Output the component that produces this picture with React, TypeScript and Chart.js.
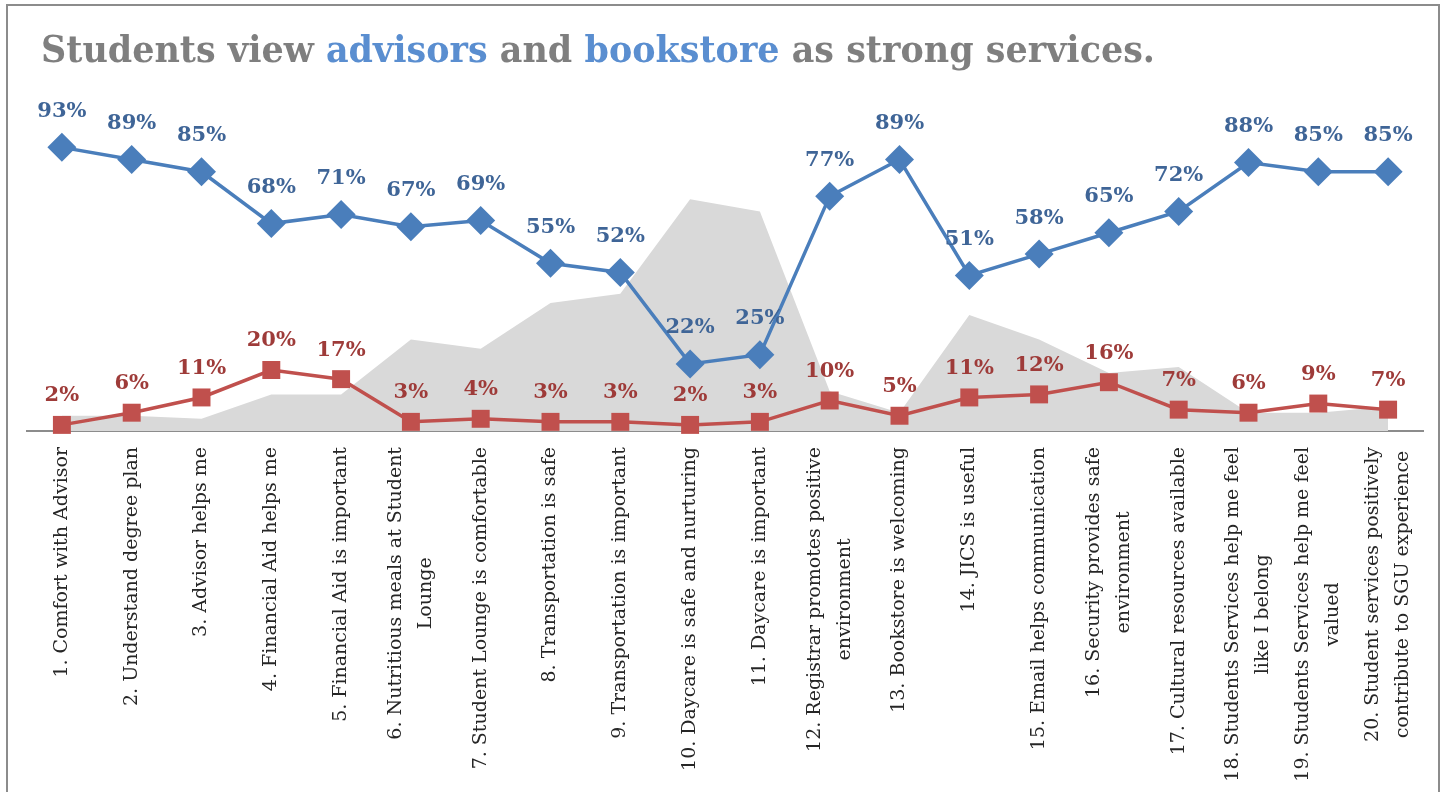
import React, { useEffect, useLayoutEffect, useRef } from "react";
import { Chart, registerables } from "chart.js";

Chart.register(...registerables);

const categories: string[][] = [
  ["1. Comfort with Advisor"],
  ["2. Understand degree plan"],
  ["3. Advisor helps me"],
  ["4. Financial Aid helps me"],
  ["5. Financial Aid is important"],
  ["6. Nutritious meals at Student", "Lounge"],
  ["7. Student Lounge is comfortable"],
  ["8. Transportation is safe"],
  ["9. Transportation is important"],
  ["10. Daycare is safe and nurturing"],
  ["11. Daycare is important"],
  ["12. Registrar promotes positive", "environment"],
  ["13. Bookstore is welcoming"],
  ["14. JICS is useful"],
  ["15. Email helps communication"],
  ["16. Security provides safe", "environment"],
  ["17. Cultural resources available"],
  ["18. Students Services help me feel", "like I belong"],
  ["19. Students Services help me feel", "valued"],
  ["20. Student services positively", "contribute to SGU experience"],
];

const agreeValues = [93, 89, 85, 68, 71, 67, 69, 55, 52, 22, 25, 77, 89, 51, 58, 65, 72, 88, 85, 85];
const disagreeValues = [2, 6, 11, 20, 17, 3, 4, 3, 3, 2, 3, 10, 5, 11, 12, 16, 7, 6, 9, 7];
const neutralValues = [5, 5, 4, 12, 12, 30, 27, 42, 45, 76, 72, 13, 6, 38, 30, 19, 21, 6, 6, 8];

const TITLE_WIDTH = 1114;

const labelPlugin = {
  id: "customLabels",
  afterDatasetsDraw(chart: any) {
    const ctx = chart.ctx;
    ctx.save();
    // data labels
    const cfg = [
      { idx: 0, color: "#3f6597", offset: 36 },
      { idx: 1, color: "#9e3b39", offset: 29 },
    ];
    ctx.font = 'bold 21px "DejaVu Serif"';
    ctx.textAlign = "center";
    ctx.textBaseline = "middle";
    for (const c of cfg) {
      const meta = chart.getDatasetMeta(c.idx);
      const data = chart.data.datasets[c.idx].data;
      meta.data.forEach((pt: any, i: number) => {
        ctx.fillStyle = c.color;
        ctx.fillText(data[i] + "%", pt.x, pt.y - c.offset);
      });
    }
    // x axis category labels (rotated, centered multi-line)
    const xScale = chart.scales.x;
    const top = chart.chartArea.bottom + 16;
    ctx.font = '19px "DejaVu Serif"';
    ctx.fillStyle = "#262626";
    const lineH = 30;
    (chart.data.labels as string[][]).forEach((lines, i) => {
      const x = xScale.getPixelForValue(i);
      let maxW = 0;
      for (const l of lines) maxW = Math.max(maxW, ctx.measureText(l).width);
      ctx.save();
      ctx.translate(x, top);
      ctx.rotate(-Math.PI / 2);
      ctx.textAlign = "center";
      ctx.textBaseline = "middle";
      const n = lines.length;
      lines.forEach((l, j) => {
        ctx.fillText(l, -maxW / 2, (j - (n - 1) / 2) * lineH);
      });
      ctx.restore();
    });
    ctx.restore();
  },
};

export default function App() {
  const canvasRef = useRef<HTMLCanvasElement>(null);
  const titleRef = useRef<HTMLSpanElement>(null);

  useLayoutEffect(() => {
    const el = titleRef.current;
    if (!el) return;
    el.style.transform = "none";
    const w = el.getBoundingClientRect().width;
    if (w > 0) el.style.transform = `scaleX(${TITLE_WIDTH / w})`;
  }, []);

  useEffect(() => {
    const canvas = canvasRef.current;
    if (!canvas) return;
    const chart = new Chart(canvas, {
      type: "line",
      data: {
        labels: categories as any,
        datasets: [
          {
            label: "Agree",
            data: agreeValues,
            borderColor: "#4a7ebb",
            backgroundColor: "#4a7ebb",
            borderWidth: 3.5,
            pointStyle: "rectRot",
            pointRadius: 14.5,
            pointHoverRadius: 14.5,
            pointBackgroundColor: "#4a7ebb",
            pointBorderWidth: 0,
            fill: false,
            order: 1,
            clip: false as any,
          },
          {
            label: "Disagree",
            data: disagreeValues,
            borderColor: "#c0504d",
            backgroundColor: "#c0504d",
            borderWidth: 3.5,
            pointStyle: "rect",
            pointRadius: 12.7,
            pointHoverRadius: 12.7,
            pointBackgroundColor: "#c0504d",
            pointBorderWidth: 0,
            fill: false,
            order: 2,
            clip: false as any,
          },
          {
            label: "Neutral",
            data: neutralValues,
            borderWidth: 0,
            borderColor: "rgba(0,0,0,0)",
            backgroundColor: "#d9d9d9",
            pointRadius: 0,
            fill: "origin",
            order: 3,
          },
        ],
      },
      options: {
        responsive: false,
        animation: false,
        devicePixelRatio: 1,
        layout: { padding: { left: 27, right: 25, top: 126, bottom: 361 } },
        plugins: {
          legend: { display: false },
          tooltip: { enabled: false },
          title: { display: false },
        },
        elements: { line: { tension: 0 } },
        scales: {
          x: {
            offset: true,
            grid: { display: false, drawTicks: false },
            ticks: { display: false },
            border: { display: true, color: "#8c8c8c", width: 2 },
          },
          y: { display: false, min: 0, max: 100 },
        },
      },
      plugins: [labelPlugin],
    });
    return () => chart.destroy();
  }, []);

  return (
    <div
      style={{
        position: "fixed",
        left: 0,
        top: 0,
        width: 1448,
        height: 792,
        background: "#ffffff",
        overflow: "hidden",
      }}
    >
      <div
        style={{
          position: "absolute",
          left: 6,
          top: 4,
          width: 1434,
          height: 820,
          border: "2px solid #8c8c8c",
          boxSizing: "border-box",
        }}
      />
      <canvas
        ref={canvasRef}
        width={1448}
        height={792}
        style={{ position: "absolute", left: 0, top: 0, width: 1448, height: 792 }}
      />
      <span
        ref={titleRef}
        style={{
          position: "absolute",
          left: 41,
          top: 31,
          display: "inline-block",
          whiteSpace: "nowrap",
          fontFamily: '"DejaVu Serif", serif',
          fontWeight: "bold",
          fontSize: 37,
          lineHeight: "37px",
          color: "#7f7f7f",
          transformOrigin: "left top",
        }}
      >
        Students view <span style={{ color: "#5a8ed0" }}>advisors</span> and{" "}
        <span style={{ color: "#5a8ed0" }}>bookstore</span> as strong services.
      </span>
    </div>
  );
}
